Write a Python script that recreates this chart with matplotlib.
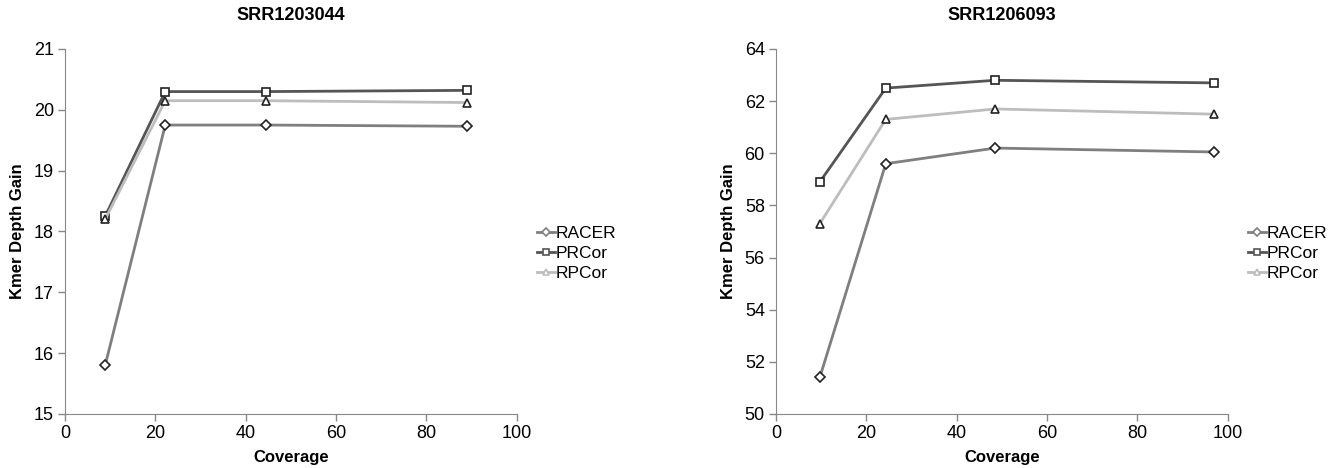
import matplotlib
matplotlib.use("Agg")
import matplotlib.pyplot as plt
from matplotlib.lines import Line2D

plt.rcParams["font.family"] = ["Liberation Sans", "DejaVu Sans"]

series_names = ["RACER", "PRCor", "RPCor"]
series_colors = ["#7f7f7f", "#555555", "#bdbdbd"]
series_markers = ["D", "s", "^"]

# SRR1203044
cov_a = [8.9, 22.2, 44.5, 89.0]
racer_a = [15.80, 19.75, 19.75, 19.73]
prcor_a = [18.25, 20.30, 20.30, 20.32]
rpcor_a = [18.20, 20.15, 20.15, 20.12]

# SRR1206093
cov_b = [9.7, 24.3, 48.5, 97.0]
racer_b = [51.4, 59.6, 60.2, 60.05]
prcor_b = [58.9, 62.5, 62.8, 62.7]
rpcor_b = [57.3, 61.3, 61.7, 61.5]

panels = [
    ("SRR1203044", cov_a, [racer_a, prcor_a, rpcor_a], (15, 21), range(15, 22)),
    ("SRR1206093", cov_b, [racer_b, prcor_b, rpcor_b], (50, 64), range(50, 65, 2)),
]

fig = plt.figure(figsize=(13.39, 4.68), dpi=100)
lefts = [0.0485, 0.5795]

for left, (title, cov, values, ylim, yticks) in zip(lefts, panels):
    ax = fig.add_axes([left, 0.1154, 0.3375, 0.7799])
    for name, col, mk, vals in zip(series_names, series_colors, series_markers, values):
        ax.plot(cov, vals, color=col, lw=2, marker=mk,
                ms=6 if mk != "D" else 5, mfc="white", mec="#222222", mew=1.2,
                label=name)
    ax.set_xlim(0, 100)
    ax.set_ylim(*ylim)
    ax.set_xticks(range(0, 101, 20))
    ax.set_yticks(list(yticks))
    ax.tick_params(labelsize=13, color="#888888", length=5, width=1, pad=3)
    for s in ("top", "right"):
        ax.spines[s].set_visible(False)
    for s in ("left", "bottom"):
        ax.spines[s].set_color("#888888")
    ax.set_title(title, fontsize=13, fontweight="bold", pad=21)
    ax.set_xlabel("Coverage", fontsize=12, fontweight="bold", labelpad=6)
    ax.set_ylabel("Kmer Depth Gain", fontsize=12, fontweight="bold", labelpad=6)

    handles = [Line2D([], [], color=c, lw=2, marker=m, ms=5 if m != "D" else 4,
                      mfc="white", mec=c, mew=1.2)
               for c, m in zip(series_colors, series_markers)]
    ax.legend(handles, series_names, loc="center left", bbox_to_anchor=(1.03, 0.44),
              frameon=False, fontsize=12.5, handlelength=1.0, handletextpad=0.05,
              labelspacing=0.3, borderaxespad=0)

fig.savefig("out.png", dpi=100)
